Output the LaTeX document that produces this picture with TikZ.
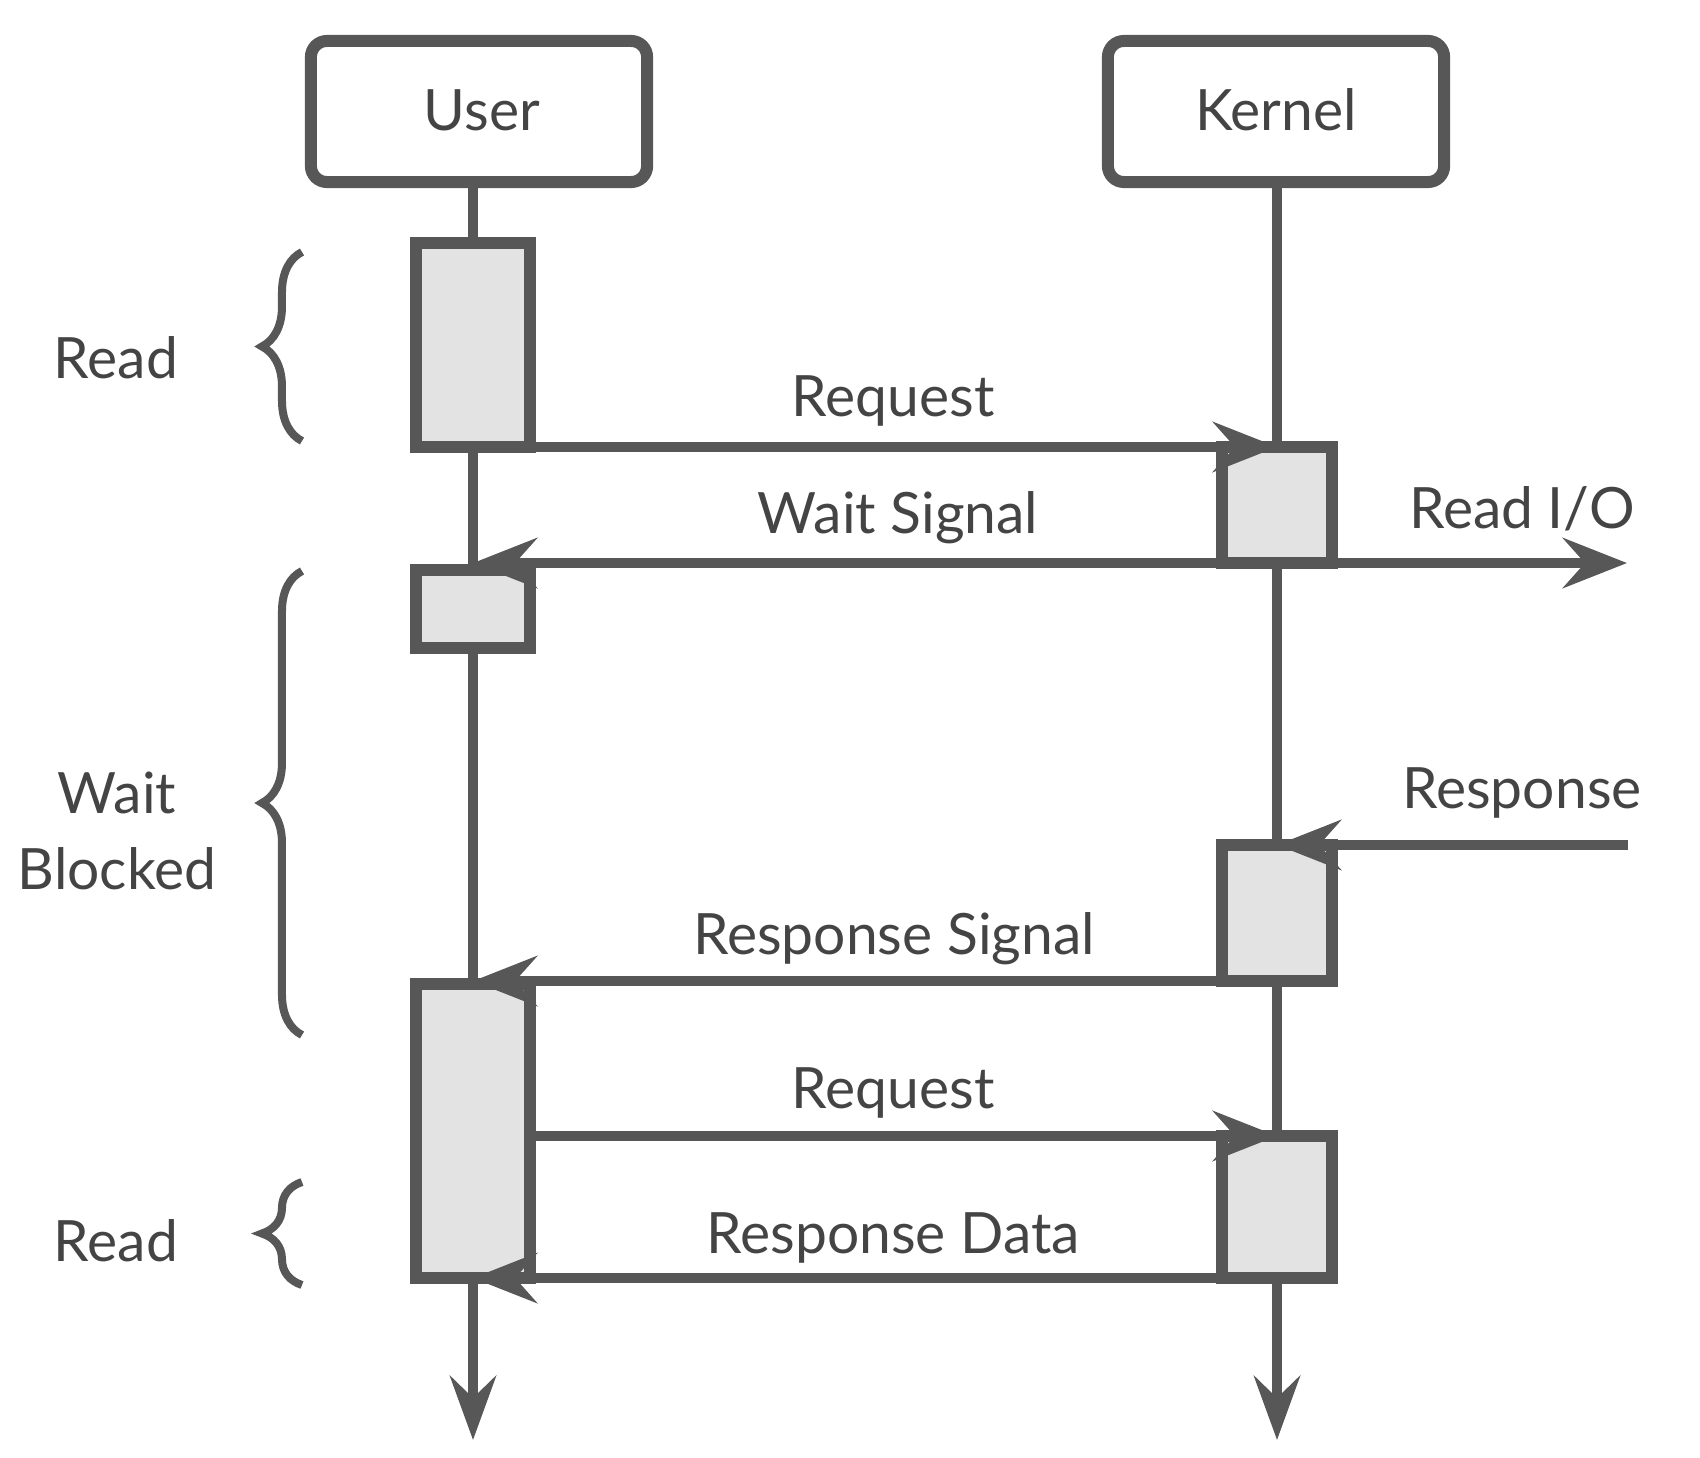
\documentclass[tikz,border=0pt]{standalone}
\usepackage{fontspec}
\setmainfont{Lato}
\usetikzlibrary{arrows.meta,decorations.pathreplacing}
\definecolor{ink}{HTML}{575757}
\definecolor{txt}{HTML}{444444}
\definecolor{actfill}{HTML}{E3E3E3}
\begin{document}
\begin{tikzpicture}[x=0.01cm,y=-0.01cm,
  headbox/.style={draw=ink, line width=0.12cm, rounded corners=0.16cm, fill=white,
    minimum width=3.36cm, minimum height=1.41cm, inner sep=0pt},
  actbox/.style={draw=ink, fill=actfill, line width=0.12cm, inner sep=0pt, outer sep=0pt},
  ubox/.style={actbox, minimum width=1.13cm},
  kbox/.style={actbox, minimum width=1.10cm},
  life/.style={draw=ink, line width=0.1cm},
  msg/.style={draw=ink, line width=0.1cm, -{Stealth[length=0.64cm,width=0.5cm,inset=0.22cm]}},
  lbl/.style={anchor=base, text=txt, font=\fontsize{16.2}{19}\selectfont, inner sep=0pt},
  bracestyle/.style={draw=ink, line width=0.08cm, decorate,
    decoration={brace, amplitude=0.40cm}}
]
\useasboundingbox (0,0) rectangle (1700,1458);

% header boxes
\node[headbox] (user) at (479,111.5) {};
\node[headbox] (kernel) at (1276,111.5) {};

% lifeline end points
\coordinate (uend) at (473,1440);
\coordinate (kend) at (1277,1440);

% lifelines
\draw[life, -{Stealth[length=0.64cm,width=0.46cm,inset=0.22cm]}] (user.south -| uend) -- (uend);
\draw[life, -{Stealth[length=0.64cm,width=0.46cm,inset=0.22cm]}] (kernel.south -| kend) -- (kend);

% activation boxes
\node[ubox, minimum height=2.04cm] (u1) at (473,345) {};
\node[ubox, minimum height=0.78cm] (u2) at (473,609) {};
\node[ubox, minimum height=2.94cm] (u3) at (473,1131) {};
\node[kbox, minimum height=1.16cm] (k1) at (1277,505) {};
\node[kbox, minimum height=1.36cm] (k2) at (1277,913) {};
\node[kbox, minimum height=1.42cm] (k3) at (1277,1207) {};

% free ends
\coordinate (io) at (1627,563);
\coordinate (resp) at (1628,845);

% messages
\draw[msg] (k1.north -| u1.east) -- (k1.north);
\draw[msg] (k1.south) -- (k1.south -| u2.north);
\draw[msg] (k1.south) -- (k1.south -| io);
\draw[msg] (k2.north -| resp) -- (k2.north);
\draw[msg] (k2.south) -- (k2.south -| u3.north);
\draw[msg] (k3.north -| u3.east) -- (k3.north);
\draw[msg] (k3.south) -- (k3.south -| u3.south);

% texts
\node[lbl] (tuser) at (482,131) {User};
\node[lbl] (tkernel) at (1276,131) {Kernel};
\node[lbl] (tread1) at (116,379) {Read};
\node[lbl] (treq1) at (893,417) {Request};
\node[lbl] (twait) at (898,534) {Wait Signal};
\node[lbl] (tio) at (1522,528) {Read I/O};
\node[lbl] (tw1) at (117,813) {Wait};
\node[lbl] (tw2) at (117,889) {Blocked};
\node[lbl] (tresp) at (1522,808) {Response};
\node[lbl] (trsig) at (894,954) {Response Signal};
\node[lbl] (treq2) at (893,1108) {Request};
\node[lbl] (tdata) at (893,1253) {Response Data};
\node[lbl] (tread2) at (116,1261) {Read};

% braces
\coordinate (b1a) at (302,441); \coordinate (b1b) at (302,252);
\coordinate (b2a) at (302,1035); \coordinate (b2b) at (302,571);
\coordinate (b3a) at (302,1285); \coordinate (b3b) at (302,1182);
\draw[bracestyle] (b1a) -- (b1b);
\draw[bracestyle] (b2a) -- (b2b);
\draw[bracestyle] (b3a) -- (b3b);
\end{tikzpicture}
\end{document}
